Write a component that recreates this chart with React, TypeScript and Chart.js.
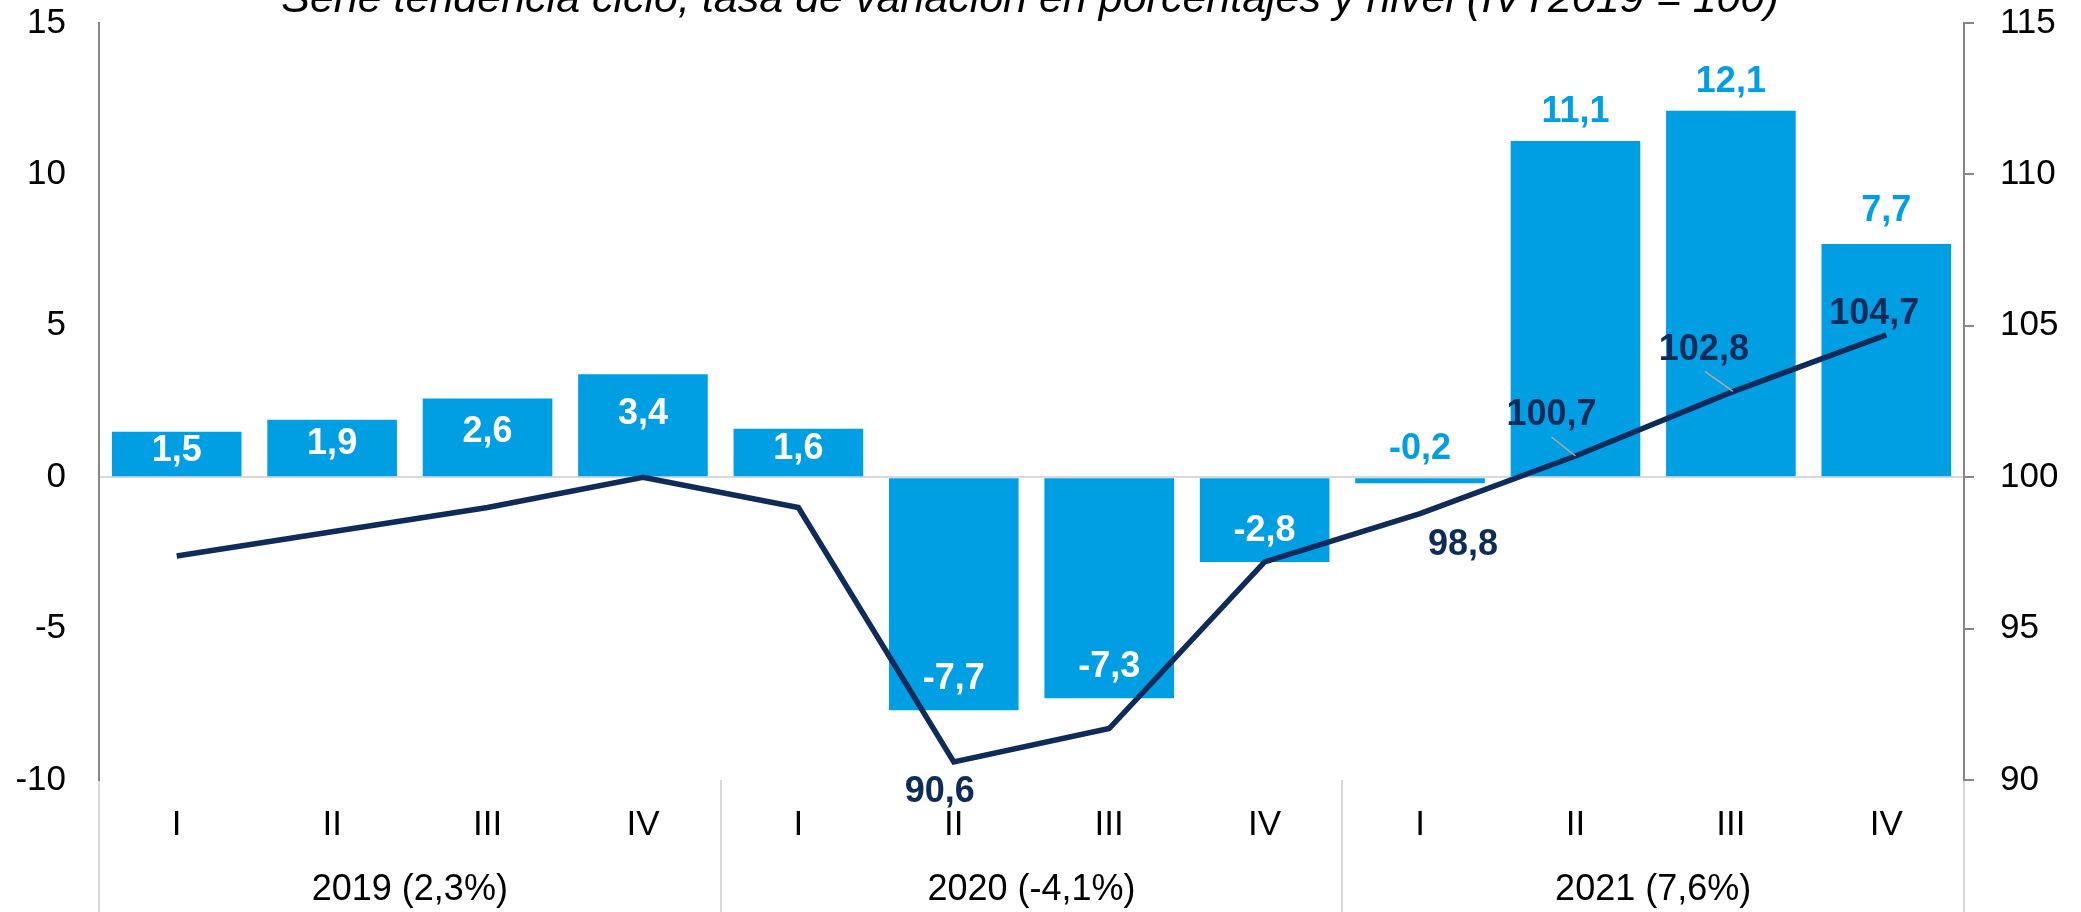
import React, { useEffect, useRef } from 'react';
import { Chart, registerables } from 'chart.js';

Chart.register(...registerables);

const quarters = ['I', 'II', 'III', 'IV', 'I', 'II', 'III', 'IV', 'I', 'II', 'III', 'IV'];
const yearGroups = ['2019 (2,3%)', '2020 (-4,1%)', '2021 (7,6%)'];
const variationRates = [1.5, 1.9, 2.6, 3.4, 1.6, -7.7, -7.3, -2.8, -0.2, 11.1, 12.1, 7.7];
const levelIndex = [97.4, 98.2, 99.0, 100.0, 99.0, 90.6, 91.7, 97.2, 98.8, 100.7, 102.8, 104.7];
const leftTicks = [-10, -5, 0, 5, 10, 15];
const rightTicks = [90, 95, 100, 105, 110, 115];
const chartTitle = 'Serie tendencia ciclo, tasa de variación en porcentajes y nivel (IVT2019 = 100)';

const BLUE = '#009FE3';
const NAVY = '#0E2B5A';
const FONT = '"Liberation Sans", Arial, sans-serif';

const fmt = (v: number) => v.toFixed(1).replace('.', ',');

// label placement for the level line (index -> offsets), styling only
const lineLabelPlacement: Record<number, { dx: number; dy: number; leader?: [number, number, number, number] }> = {
  5: { dx: -14, dy: 27 },
  8: { dx: 43, dy: 29 },
  9: { dx: -24, dy: -44, leader: [-24, -19, 0, 0] },
  10: { dx: -27, dy: -45, leader: [-26, -21, 2, -1] },
  11: { dx: -12, dy: -24 },
};

const customPlugin = {
  id: 'customDraw',
  beforeDraw(chart: any) {
    const { ctx, chartArea, scales } = chart;
    const x = scales.x;
    ctx.save();
    ctx.fillStyle = '#ffffff';
    ctx.fillRect(0, 0, chart.width, chart.height);
    ctx.strokeStyle = '#d9d9d9';
    ctx.lineWidth = 2;
    const n = quarters.length;
    const step = (chartArea.right - chartArea.left) / n;
    for (let g = 0; g <= yearGroups.length; g++) {
      const px = Math.round(chartArea.left + g * 4 * step);
      ctx.beginPath();
      ctx.moveTo(px, chartArea.bottom);
      ctx.lineTo(px, chart.height);
      ctx.stroke();
    }
    ctx.fillStyle = '#000';
    ctx.font = `36px ${FONT}`;
    ctx.textAlign = 'center';
    ctx.textBaseline = 'alphabetic';
    yearGroups.forEach((lbl, g) => {
      const c = (x.getPixelForValue(g * 4) + x.getPixelForValue(g * 4 + 3)) / 2;
      ctx.fillText(lbl, c, 900);
    });
    ctx.font = `italic 43px ${FONT}`;
    ctx.fillText(chartTitle, 1030, 12);
    ctx.restore();
  },
  afterDatasetsDraw(chart: any) {
    const { ctx } = chart;
    ctx.save();
    ctx.textAlign = 'center';
    ctx.textBaseline = 'alphabetic';
    const fs = 36;
    ctx.font = `bold ${fs}px ${FONT}`;
    const capHalf = fs * 0.358;
    const barMeta = chart.getDatasetMeta(0);
    barMeta.data.forEach((bar: any, i: number) => {
      const v = variationRates[i];
      const { x, y, base } = bar.getProps(['x', 'y', 'base'], true);
      const h = Math.abs(base - y);
      let cy: number;
      let color: string;
      if (i >= 8) {
        cy = Math.min(y, base) - (h > 150 && h < 300 ? 36 : 32);
        color = BLUE;
      } else if (v > 0) {
        cy = y + Math.min(37, h * 0.45 - 4);
        color = '#ffffff';
      } else {
        cy = y - 34;
        color = '#ffffff';
      }
      ctx.fillStyle = color;
      ctx.fillText(fmt(v), x, cy + capHalf);
    });
    const lineMeta = chart.getDatasetMeta(1);
    lineMeta.data.forEach((pt: any, i: number) => {
      const pl = lineLabelPlacement[i];
      if (!pl) return;
      const { x, y } = pt.getProps(['x', 'y'], true);
      if (pl.leader) {
        ctx.strokeStyle = '#b3aa9c';
        ctx.lineWidth = 1.5;
        ctx.beginPath();
        ctx.moveTo(x + pl.leader[0], y + pl.leader[1]);
        ctx.lineTo(x + pl.leader[2], y + pl.leader[3]);
        ctx.stroke();
      }
      ctx.fillStyle = NAVY;
      ctx.fillText(fmt(levelIndex[i]), x + pl.dx, y + pl.dy + capHalf);
    });
    ctx.restore();
  },
};

export default function App() {
  const canvasRef = useRef<HTMLCanvasElement | null>(null);

  useEffect(() => {
    document.body.style.margin = '0';
    const canvas = canvasRef.current;
    if (!canvas) return;
    const chart = new Chart(canvas, {
      type: 'bar',
      data: {
        labels: quarters,
        datasets: [
          {
            type: 'bar',
            label: 'Tasa de variación',
            data: variationRates,
            backgroundColor: BLUE,
            yAxisID: 'y',
            barPercentage: 0.834,
            categoryPercentage: 1,
            order: 2,
          },
          {
            type: 'line',
            label: 'Nivel',
            data: levelIndex,
            borderColor: NAVY,
            borderWidth: 5.5,
            pointRadius: 0,
            tension: 0,
            yAxisID: 'y1',
            order: 1,
          } as any,
        ],
      },
      options: {
        responsive: false,
        animation: false,
        devicePixelRatio: 1,
        layout: { padding: { top: 23, left: 0, right: 0, bottom: 0 } },
        plugins: {
          legend: { display: false },
          tooltip: { enabled: false },
          title: { display: false },
        },
        scales: {
          x: {
            offset: true,
            grid: { display: false, drawTicks: false },
            border: { display: false },
            ticks: {
              color: '#000',
              font: { size: 35, family: FONT },
              padding: 24,
              maxRotation: 0,
              autoSkip: false,
            },
            afterFit: (s: any) => {
              s.height = 132;
              s.paddingLeft = 0;
              s.paddingRight = 0;
            },
          },
          y: {
            position: 'left',
            min: leftTicks[0],
            max: leftTicks[leftTicks.length - 1],
            afterBuildTicks: (s: any) => {
              s.ticks = leftTicks.map((v) => ({ value: v }));
            },
            grid: {
              drawTicks: false,
              lineWidth: 2,
              color: (c: any) => (c.tick && c.tick.value === 0 ? '#d9d9d9' : 'rgba(0,0,0,0)'),
            },
            border: { display: true, color: '#868686', width: 2 },
            ticks: {
              color: '#000',
              font: { size: 35, family: FONT },
              padding: 33,
            },
            afterFit: (s: any) => {
              s.width = 99;
              s.paddingTop = 0;
              s.paddingBottom = 0;
            },
          },
          y1: {
            position: 'right',
            min: rightTicks[0],
            max: rightTicks[rightTicks.length - 1],
            afterBuildTicks: (s: any) => {
              s.ticks = rightTicks.map((v) => ({ value: v }));
            },
            grid: {
              drawOnChartArea: false,
              drawTicks: true,
              tickLength: 10,
              color: '#868686',
              lineWidth: 2,
            },
            border: { display: true, color: '#868686', width: 2 },
            ticks: {
              color: '#000',
              font: { size: 35, family: FONT },
              padding: 26,
            },
            afterFit: (s: any) => {
              s.width = 117;
              s.paddingTop = 0;
              s.paddingBottom = 0;
            },
          },
        },
      },
      plugins: [customPlugin],
    });
    return () => chart.destroy();
  }, []);

  return (
    <div style={{ position: 'absolute', left: 0, top: 0, width: 2081, height: 912 }}>
      <canvas ref={canvasRef} width={2081} height={912} style={{ width: 2081, height: 912, display: 'block' }} />
    </div>
  );
}
